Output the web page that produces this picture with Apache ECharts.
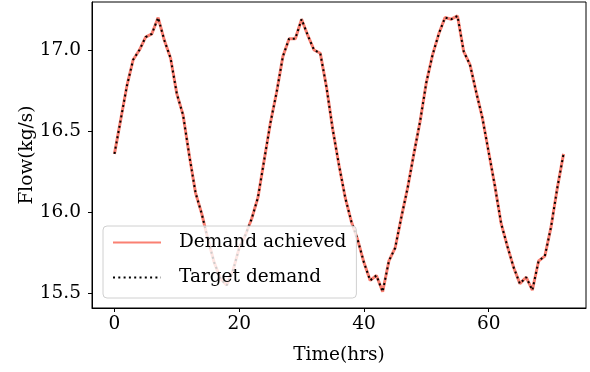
<!DOCTYPE html>
<html>
<head>
<meta charset="utf-8">
<script src="https://cdn.jsdelivr.net/npm/echarts@6/dist/echarts.min.js"></script>
<style>
  html, body { margin: 0; padding: 0; background: #ffffff; }
  #chart { width: 590px; height: 372px; }
</style>
</head>
<body>
<div id="chart"></div>
<script>
// Hourly flow demand over three days
const hours = [
  0, 1, 2, 3, 4, 5, 6, 7, 8, 9, 10, 11, 12, 13, 14, 15, 16, 17, 18, 19,
  20, 21, 22, 23, 24, 25, 26, 27, 28, 29, 30, 31, 32, 33, 34, 35, 36, 37, 38, 39,
  40, 41, 42, 43, 44, 45, 46, 47, 48, 49, 50, 51, 52, 53, 54, 55, 56, 57, 58, 59,
  60, 61, 62, 63, 64, 65, 66, 67, 68, 69, 70, 71, 72
];

const targetDemand = [
  16.36, 16.57, 16.78, 16.94, 17.00, 17.08, 17.10, 17.20, 17.06, 16.95,
  16.73, 16.60, 16.35, 16.12, 15.99, 15.83, 15.69, 15.59, 15.55, 15.64,
  15.78, 15.86, 15.96, 16.09, 16.32, 16.55, 16.74, 16.96, 17.07, 17.07,
  17.19, 17.09, 17.00, 16.98, 16.77, 16.51, 16.29, 16.09, 15.94, 15.83,
  15.69, 15.58, 15.61, 15.51, 15.70, 15.78, 15.97, 16.15, 16.36, 16.56,
  16.80, 16.97, 17.10, 17.20, 17.19, 17.21, 16.99, 16.91, 16.74, 16.58,
  16.37, 16.16, 15.93, 15.79, 15.66, 15.56, 15.60, 15.52, 15.70, 15.73,
  15.91, 16.15, 16.36
];

const demandAchieved = [
  16.36, 16.57, 16.78, 16.94, 17.00, 17.08, 17.10, 17.20, 17.06, 16.95,
  16.73, 16.60, 16.35, 16.12, 15.99, 15.83, 15.69, 15.59, 15.55, 15.64,
  15.78, 15.86, 15.96, 16.09, 16.32, 16.55, 16.74, 16.96, 17.07, 17.07,
  17.19, 17.09, 17.00, 16.98, 16.77, 16.51, 16.29, 16.09, 15.94, 15.83,
  15.69, 15.58, 15.61, 15.51, 15.70, 15.78, 15.97, 16.15, 16.36, 16.56,
  16.80, 16.97, 17.10, 17.20, 17.19, 17.21, 16.99, 16.91, 16.74, 16.58,
  16.37, 16.16, 15.93, 15.79, 15.66, 15.56, 15.60, 15.52, 15.70, 15.73,
  15.91, 16.15, 16.36
];

const xTicks = [0, 20, 40, 60];
const yTicks = [15.5, 16.0, 16.5, 17.0];

const FONT = 'DejaVu Serif';
const FS = 18.5;

const pairs = (xs, ys) => xs.map((x, i) => [x, ys[i]]);

const chart = echarts.init(document.getElementById('chart'), null, { renderer: 'canvas' });

chart.setOption({
  animation: false,
  backgroundColor: '#ffffff',
  textStyle: { fontFamily: FONT, color: '#000' },
  grid: {
    left: 92, right: 4, top: 2, bottom: 64,
    show: true, borderColor: '#000', borderWidth: 1, backgroundColor: 'transparent'
  },
  legend: {
    orient: 'vertical',
    left: 103, top: 226,
    itemWidth: 48, itemHeight: 14, itemGap: 16,
    padding: [7, 10, 11, 9],
    backgroundColor: 'rgba(255,255,255,0.8)',
    borderColor: '#d0d0d0', borderWidth: 1, borderRadius: 4,
    itemStyle: { opacity: 0 },
    textStyle: { fontFamily: FONT, fontSize: FS, color: '#000', padding: [0, 0, 0, 13] },
    data: ['Demand achieved', 'Target demand']
  },
  xAxis: {
    type: 'value',
    min: -3.6, max: 75.6,
    name: 'Time(hrs)', nameLocation: 'middle', nameGap: 38, nameMoveOverlap: false,
    nameTextStyle: { fontFamily: FONT, fontSize: FS, color: '#000' },
    splitLine: { show: false },
    axisLine: { show: true, onZero: false, lineStyle: { color: '#000', width: 1 } },
    axisTick: { show: true, length: 4, inside: false, customValues: xTicks, lineStyle: { color: '#000' } },
    axisLabel: { customValues: xTicks, margin: 7, fontFamily: FONT, fontSize: FS, color: '#000',
      formatter: v => String(Math.round(v)) }
  },
  yAxis: {
    type: 'value',
    min: 15.41, max: 17.296,
    name: 'Flow(kg/s)', nameLocation: 'middle', nameGap: 55, nameRotate: 90, nameMoveOverlap: false,
    nameTextStyle: { fontFamily: FONT, fontSize: FS, color: '#000' },
    splitLine: { show: false },
    axisLine: { show: true, onZero: false, lineStyle: { color: '#000', width: 1 } },
    axisTick: { show: true, length: 4, inside: false, customValues: yTicks, lineStyle: { color: '#000' } },
    axisLabel: { customValues: yTicks, margin: 11, fontFamily: FONT, fontSize: FS, color: '#000',
      formatter: v => v.toFixed(1) }
  },
  series: [
    {
      name: 'Demand achieved',
      type: 'line',
      data: pairs(hours, demandAchieved),
      symbol: 'none',
      color: '#FA8072',
      lineStyle: { color: '#FA8072', width: 3 },
      z: 2
    },
    {
      name: 'Target demand',
      type: 'line',
      data: pairs(hours, targetDemand),
      symbol: 'none',
      color: '#000',
      lineStyle: { color: '#000', width: 2, type: [2, 3.3] },
      z: 3
    }
  ]
});
</script>
</body>
</html>
